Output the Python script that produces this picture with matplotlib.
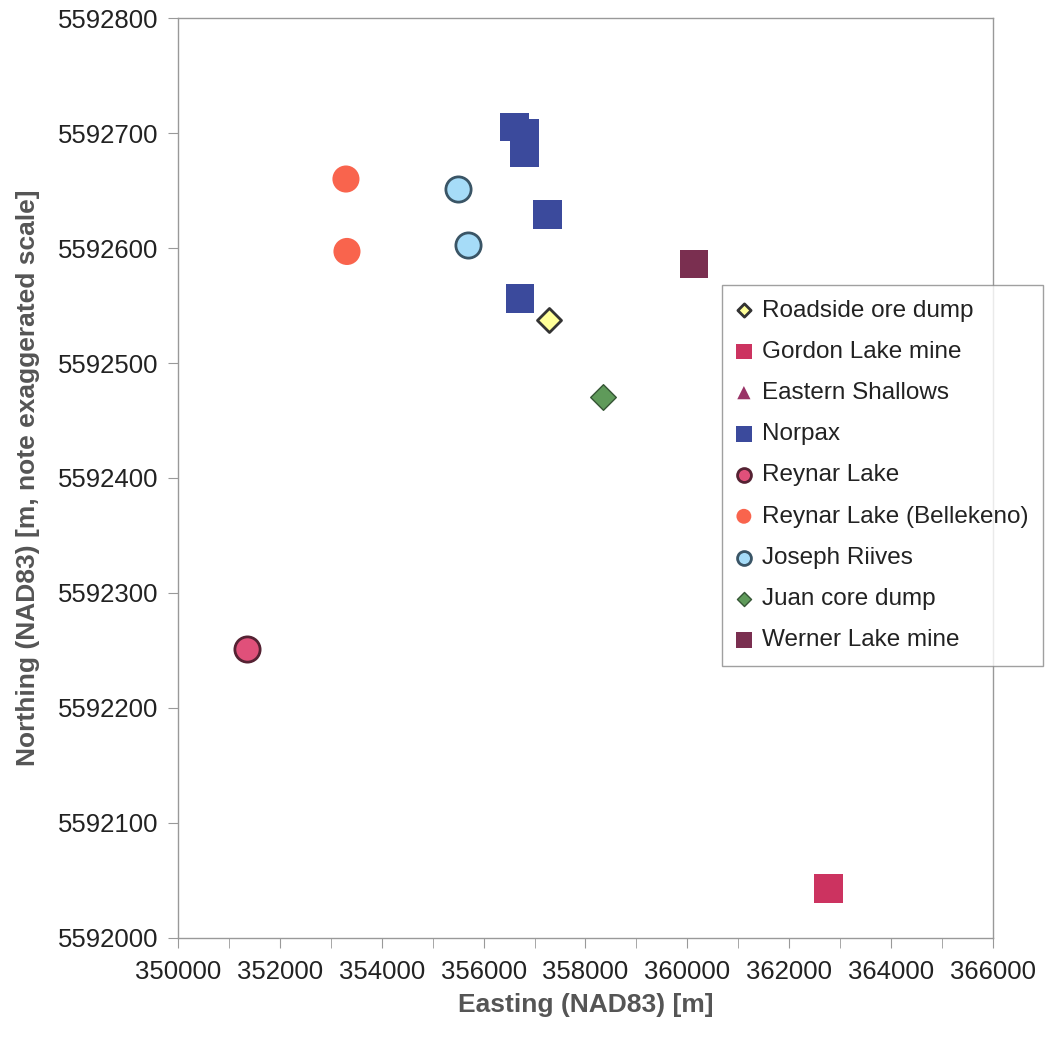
import matplotlib.pyplot as plt
from matplotlib.ticker import MultipleLocator

plt.rcParams['font.family'] = ['Liberation Sans', 'DejaVu Sans']

# Datos (Easting, Northing)
roadside_x = [357290]
roadside_y = [5592537]
gordon_x = [362770]
gordon_y = [5592043]
eastern_x = []
eastern_y = []
norpax_x = [356606, 356802, 356802, 357254, 356714]
norpax_y = [5592705, 5592700, 5592683, 5592629, 5592556]
reynar_x = [351355]
reynar_y = [5592251]
bellekeno_x = [353298, 353318]
bellekeno_y = [5592660, 5592597]
riives_x = [355507, 355703]
riives_y = [5592651, 5592603]
juan_x = [358343]
juan_y = [5592470]
werner_x = [360130]
werner_y = [5592586]

fig = plt.figure(figsize=(10.45, 10.48), dpi=100)
ax = fig.add_axes([0.1703, 0.105, 0.7799, 0.8778])

ax.scatter(roadside_x, roadside_y, marker='D', s=150, color='#ffff99', edgecolors='#333333', linewidths=2, label='Roadside ore dump', zorder=3)
ax.scatter(gordon_x, gordon_y, marker='s', s=420, color='#cc3360', edgecolors='none', label='Gordon Lake mine', zorder=3)
ax.scatter(eastern_x, eastern_y, marker='^', s=300, color='#993366', edgecolors='none', label='Eastern Shallows', zorder=3)
ax.scatter(norpax_x, norpax_y, marker='s', s=420, color='#3b4a9c', edgecolors='none', label='Norpax', zorder=3)
ax.scatter(reynar_x, reynar_y, marker='o', s=330, color='#e0507a', edgecolors='#552233', linewidths=2, label='Reynar Lake', zorder=3)
ax.scatter(bellekeno_x, bellekeno_y, marker='o', s=380, color='#f9644d', edgecolors='none', label='Reynar Lake (Bellekeno)', zorder=3)
ax.scatter(riives_x, riives_y, marker='o', s=330, color='#a6dcf8', edgecolors='#3a5566', linewidths=2, label='Joseph Riives', zorder=3)
ax.scatter(juan_x, juan_y, marker='D', s=170, color='#5f9a5a', edgecolors='#355535', linewidths=1, label='Juan core dump', zorder=3)
ax.scatter(werner_x, werner_y, marker='s', s=420, color='#7a2f50', edgecolors='none', label='Werner Lake mine', zorder=3)

ax.set_xlim(350000, 366000)
ax.set_ylim(5592000, 5592800)
ax.xaxis.set_major_locator(MultipleLocator(2000))
ax.xaxis.set_minor_locator(MultipleLocator(1000))
ax.yaxis.set_major_locator(MultipleLocator(100))
ax.ticklabel_format(useOffset=False, style='plain')

for s in ax.spines.values():
    s.set_color('#999999')
    s.set_linewidth(1)
ax.tick_params(axis='both', which='both', direction='out', length=7, color='#999999', labelsize=18.5, labelcolor='#222222')
ax.tick_params(axis='x', pad=9)
ax.tick_params(axis='y', pad=7)

# Etiquetas de los ejes
ax.set_xlabel('Easting (NAD83) [m]', fontsize=19, fontweight='bold', color='#555555', labelpad=6)
ax.set_ylabel('Northing (NAD83) [m, note exaggerated scale]', fontsize=19, fontweight='bold', color='#555555', labelpad=13)

leg = ax.legend(loc='upper left', bbox_to_anchor=(722 / 1045, 1 - 285 / 1048), bbox_transform=fig.transFigure,
                fontsize=17.5, frameon=True, fancybox=False, edgecolor='#888888', markerscale=0.55,
                handlelength=0.6, handletextpad=0.45, labelspacing=0.79, borderpad=0.6, borderaxespad=0)
leg.get_frame().set_linewidth(1)
for t in leg.get_texts():
    t.set_color('#222222')

plt.savefig('out.png', dpi=100)
